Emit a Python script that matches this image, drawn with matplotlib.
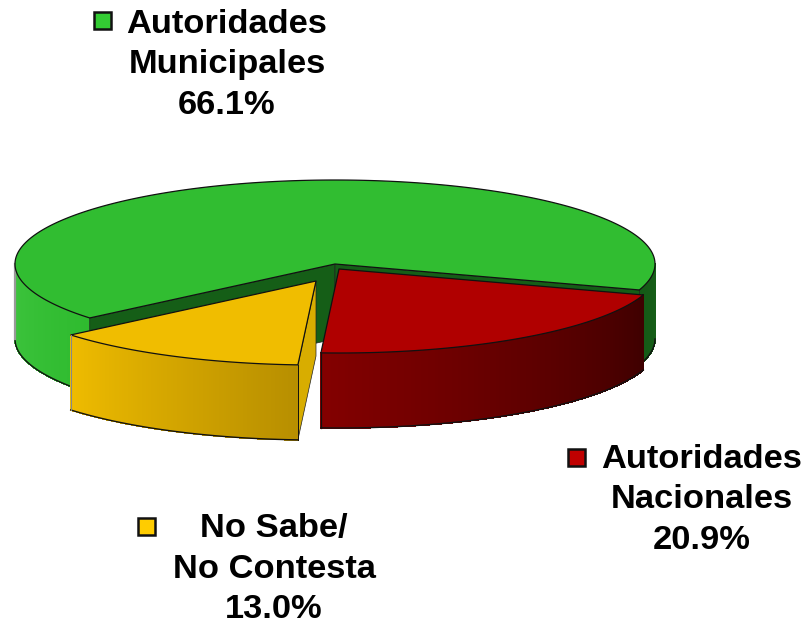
"""
3D style exploded pie, drawn by hand since matplotlib has no perspective pie
"""

import numpy as np
import matplotlib.pyplot as plt
from matplotlib.colors import to_rgb
from matplotlib.collections import PolyCollection
from matplotlib.patches import Rectangle

plt.rcParams["font.family"] = ["Liberation Sans", "DejaVu Sans"]

categories = ["Autoridades\nNacionales", "No Sabe/\nNo Contesta", "Autoridades\nMunicipales"]
values = [20.9, 13.0, 66.1]
top_colors = ["#b00000", "#f0bd00", "#31bd31"]
key_colors = ["#c00000", "#ffcc00", "#33cc33"]

# geometry of the pie on the canvas (pixels)
rx, ry, depth = 320, 84, 75
start_angle = -18
centres = {"Autoridades\nMunicipales": (335, 264),
           "Autoridades\nNacionales": (339, 269),
           "No Sabe/\nNo Contesta": (316, 281)}


def rim(centre, a, b, n=120, drop=0):
    t = np.radians(np.linspace(a, b, n))
    return centre[0] + rx*np.cos(t), centre[1] - ry*np.sin(t) + drop


def wall(ax, centre, a, b, left, right, z, n=120):
    # curved side, split in thin strips for the gradient
    x, y = rim(centre, a, b, n)
    strips, cols = [], []
    c0, c1 = np.array(to_rgb(left)), np.array(to_rgb(right))
    for i in range(n-1):
        strips.append([(x[i], y[i]), (x[i+1], y[i+1]),
                       (x[i+1], y[i+1]+depth), (x[i], y[i]+depth)])
        cols.append(c0 + (c1-c0)*i/(n-2))
    ax.add_collection(PolyCollection(strips, facecolors=cols, edgecolors=cols,
                                     linewidths=0.6, antialiaseds=False, zorder=z))
    ax.plot(x, y+depth, color="#111111", lw=1.0, zorder=z+0.1)


def cut(ax, centre, angle, colour, z):
    # flat inner wall from the centre out to the rim
    x, y = rim(centre, angle, angle, 1)
    ax.fill([centre[0], x[0], x[0], centre[0]],
            [centre[1], y[0], y[0]+depth, centre[1]+depth],
            color=colour, ec="#222222", lw=0.5, zorder=z)


def top(ax, centre, a, b, colour, z):
    x, y = rim(centre, a, b, 300)
    ax.fill(np.r_[centre[0], x], np.r_[centre[1], y], fc=colour, ec="#111111",
            lw=0.9, joinstyle="round", zorder=z)


def drop_line(ax, centre, angle, z, lw=0.9, colour="#111111"):
    x, y = rim(centre, angle, angle, 1)
    ax.plot([x[0], x[0]], [y[0], y[0]+depth], color=colour, lw=lw, zorder=z)


fig = plt.figure(figsize=(8.07, 6.25), dpi=100)
ax = fig.add_axes([0, 0, 1, 1])
ax.set_xlim(0, 807)
ax.set_ylim(625, 0)
ax.axis("off")

sweep = np.array(values)/100*360
red_end = start_angle - sweep[0]
yellow_end = red_end - sweep[1]
green_end = yellow_end - sweep[2]

c_green = centres[categories[2]]
c_red = centres[categories[0]]
c_yellow = centres[categories[1]]

# green slice
wall(ax, c_green, 180, 220, "#3ec43e", "#2fbb2f", 1)
wall(ax, c_green, start_angle, 0, "#145a16", "#165e18", 1)
drop_line(ax, c_green, 180, 1.5, lw=1.6, colour="#999999")
cut(ax, c_green, yellow_end, "#155e17", 2)
cut(ax, c_green, start_angle, "#155e17", 2)
top(ax, c_green, yellow_end, green_end, top_colors[2], 3)

# yellow slice
cut(ax, c_yellow, red_end, "#d8ad00", 4)
wall(ax, c_yellow, yellow_end, red_end, "#efbc00", "#b88f00", 5)
top(ax, c_yellow, red_end, yellow_end, top_colors[1], 6)
drop_line(ax, c_yellow, yellow_end, 7, lw=0.8, colour="#888888")
drop_line(ax, c_yellow, red_end, 7, lw=0.7)

# red slice
wall(ax, c_red, red_end, start_angle, "#830000", "#3f0000", 5)
top(ax, c_red, start_angle, red_end, top_colors[0], 6)
drop_line(ax, c_red, red_end, 7)

# labels with their little keys
labels = [f"{c}\n{v:.1f}%" for c, v in zip(categories, values)]
label_pos = [(702, 500), (274, 569), (227, 65)]
key_pos = [(568, 449), (138, 518), (94, 12)]
for lab, (lx, ly), (kx, ky), tc, kc in zip(labels, label_pos, key_pos, top_colors, key_colors):
    ax.text(lx, ly, lab, ha="center", va="center", ma="center", fontsize=24.8,
            fontweight="bold", color="black", linespacing=1.39, zorder=10)
    ax.add_patch(Rectangle((kx, ky), 17, 17, fc=kc, ec="#111111", lw=1.8, zorder=10))

fig.savefig("out.png", dpi=100)
plt.close(fig)
